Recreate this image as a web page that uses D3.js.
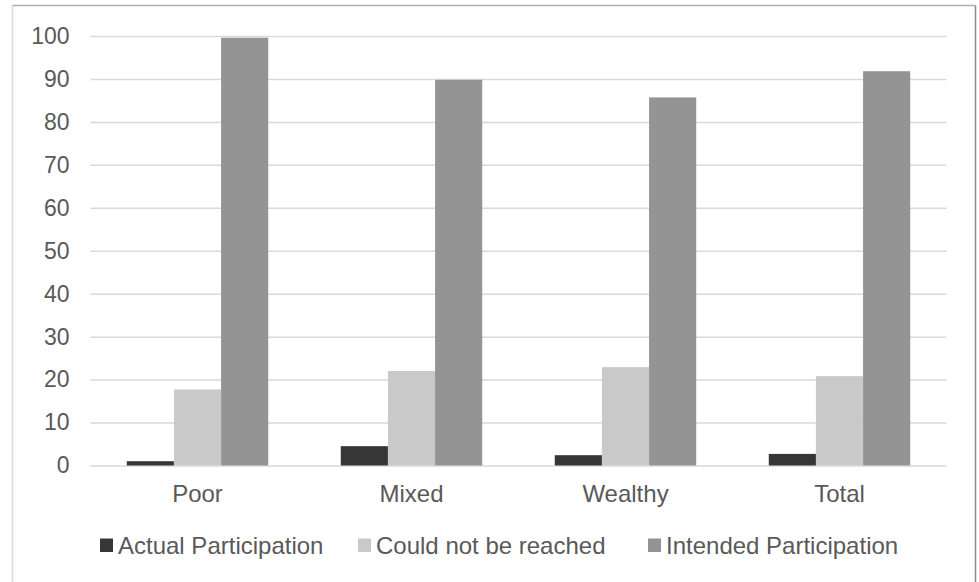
<!DOCTYPE html>
<html>
<head>
<meta charset="utf-8">
<script src="https://cdn.jsdelivr.net/npm/d3@7"></script>
<style>
  html, body { margin: 0; padding: 0; background: #fff; }
  svg { display: block; }
  text { font-family: "Liberation Sans", Arial, sans-serif; fill: #595959; }
</style>
</head>
<body>
<svg id="chart" width="979" height="582"></svg>
<script>
const categories = ["Poor", "Mixed", "Wealthy", "Total"];
const seriesNames = ["Actual Participation", "Could not be reached", "Intended Participation"];
const actualParticipation = [1.0, 4.5, 2.4, 2.7];
const couldNotBeReached = [17.7, 22.0, 22.9, 20.8];
const intendedParticipation = [99.6, 89.8, 85.7, 91.8];
const yTicks = [0, 10, 20, 30, 40, 50, 60, 70, 80, 90, 100];
const seriesColors = ["#363636", "#c9c9c9", "#949494"];

const seriesValues = [actualParticipation, couldNotBeReached, intendedParticipation];

const svg = d3.select("#chart");

// outer frame
svg.append("line").attr("x1", 12.5).attr("x2", 12.5).attr("y1", 5.5).attr("y2", 582)
  .attr("stroke", "#d9d9d9").attr("stroke-width", 1.5);
svg.append("line").attr("x1", 12.5).attr("x2", 975.5).attr("y1", 5.5).attr("y2", 5.5)
  .attr("stroke", "#b0b0b0").attr("stroke-width", 1.5);
svg.append("line").attr("x1", 975.5).attr("x2", 975.5).attr("y1", 5.5).attr("y2", 582)
  .attr("stroke", "#8c8c8c").attr("stroke-width", 1.5);

const plotLeft = 90.5, plotRight = 946.5;
const y = d3.scaleLinear().domain([0, 100]).range([465.5, 36]);
const x0 = d3.scaleBand().domain(categories).range([plotLeft, plotRight])
  .paddingInner(0.339).paddingOuter(0.1695);
const x1 = d3.scaleBand().domain(seriesNames).range([0, x0.bandwidth()]).padding(0);

// y axis with gridlines
const yAxis = svg.append("g").attr("transform", `translate(${plotLeft},0)`)
  .call(d3.axisLeft(y).tickValues(yTicks).tickSizeInner(-(plotRight - plotLeft)).tickSizeOuter(0).tickPadding(21));
yAxis.select(".domain").remove();
yAxis.selectAll(".tick line").attr("stroke", "#d9d9d9").attr("stroke-width", 1.5);
yAxis.selectAll(".tick text").attr("font-size", 23).attr("fill", "#595959")
  .style("font-family", "'Liberation Sans', Arial, sans-serif");

// bars
const groups = svg.append("g").selectAll("g").data(categories).join("g")
  .attr("transform", d => `translate(${x0(d)},0)`);
groups.selectAll("rect")
  .data((c, i) => seriesNames.map((s, k) => ({ s, k, v: seriesValues[k][i] })))
  .join("rect")
  .attr("x", d => x1(d.s))
  .attr("width", x1.bandwidth())
  .attr("y", d => y(d.v))
  .attr("height", d => y(0) - y(d.v))
  .attr("fill", d => seriesColors[d.k]);

// x axis labels
const xAxis = svg.append("g").attr("transform", `translate(0,${y(0)})`)
  .call(d3.axisBottom(x0).tickSize(0).tickPadding(19));
xAxis.select(".domain").remove();
xAxis.selectAll(".tick text").attr("font-size", 24).attr("fill", "#595959")
  .style("font-family", "'Liberation Sans', Arial, sans-serif");

// legend
const legendX = [100, 358, 648];
const legend = svg.append("g").selectAll("g").data(seriesNames).join("g")
  .attr("transform", (d, i) => `translate(${legendX[i]},538.5)`);
legend.append("rect").attr("width", 13).attr("height", 13.5)
  .attr("fill", (d, i) => seriesColors[i]);
legend.append("text").attr("x", 18).attr("y", 15)
  .attr("font-size", 24).text(d => d);
</script>
</body>
</html>
